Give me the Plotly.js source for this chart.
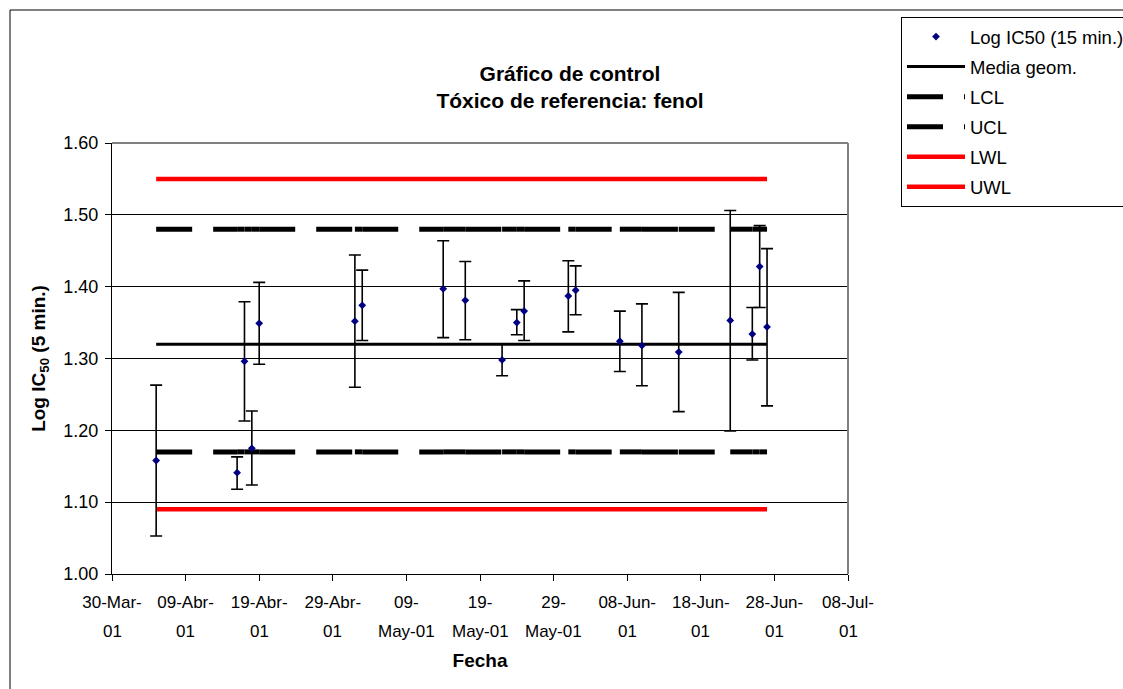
<!DOCTYPE html>
<html>
<head>
<meta charset="utf-8">
<script src="https://cdn.plot.ly/plotly-3.0.1.min.js"></script>
<style>
  html, body { margin: 0; padding: 0; background: #fff; }
  #chart { width: 1123px; height: 689px; }
</style>
</head>
<body>
<div id="chart"></div>
<script>
// ---- Data ----
const dates = [
  '2001-04-05', '2001-04-16', '2001-04-17', '2001-04-18', '2001-04-19',
  '2001-05-02', '2001-05-03', '2001-05-14', '2001-05-17', '2001-05-22',
  '2001-05-24', '2001-05-25', '2001-05-31', '2001-06-01', '2001-06-07',
  '2001-06-10', '2001-06-15', '2001-06-22', '2001-06-25', '2001-06-26',
  '2001-06-27'
];
const logIC50 = [
  1.158, 1.141, 1.296, 1.175, 1.349,
  1.352, 1.374, 1.397, 1.381, 1.298,
  1.350, 1.366, 1.387, 1.395, 1.324,
  1.318, 1.309, 1.353, 1.334, 1.428,
  1.344
];
const upperLimit = [
  1.263, 1.163, 1.379, 1.227, 1.406,
  1.444, 1.423, 1.464, 1.435, 1.320,
  1.368, 1.408, 1.436, 1.429, 1.366,
  1.376, 1.392, 1.506, 1.371, 1.485,
  1.453
];
const lowerLimit = [
  1.053, 1.118, 1.213, 1.124, 1.292,
  1.260, 1.325, 1.329, 1.326, 1.276,
  1.333, 1.325, 1.337, 1.361, 1.282,
  1.262, 1.226, 1.199, 1.298, 1.371,
  1.234
];
const mediaGeom = 1.32;
const LCL = 1.17;
const UCL = 1.48;
const LWL = 1.09;
const UWL = 1.55;

const tickDates = [
  '2001-03-30', '2001-04-09', '2001-04-19', '2001-04-29', '2001-05-09',
  '2001-05-19', '2001-05-29', '2001-06-08', '2001-06-18', '2001-06-28',
  '2001-07-08'
];
const tickLine1 = [
  '30-Mar-', '09-Abr-', '19-Abr-', '29-Abr-', '09-',
  '19-', '29-', '08-Jun-', '18-Jun-', '28-Jun-',
  '08-Jul-'
];
const tickLine2 = [
  '01', '01', '01', '01', 'May-01',
  'May-01', 'May-01', '01', '01', '01',
  '01'
];

// ---- Helpers ----
const FONT = 'Liberation Sans, Arial, sans-serif';
function flat(level) { return dates.map(() => level); }
// Excel restarts the dash pattern at every data point: one sub-path per segment
function segmented(level) {
  const xs = [], ys = [];
  for (let i = 0; i < dates.length - 1; i++) {
    xs.push(dates[i], dates[i + 1], null);
    ys.push(level, level, null);
  }
  return { x: xs, y: ys };
}
const plusErr = logIC50.map((v, i) => upperLimit[i] - v);
const minusErr = logIC50.map((v, i) => v - lowerLimit[i]);

const lcl = segmented(LCL);
const ucl = segmented(UCL);

const traces = [
  { name: 'Media geom.', x: dates, y: flat(mediaGeom), mode: 'lines',
    line: { color: '#000000', width: 3 }, legendrank: 2, legendgroup: 'g2' },
  { name: 'LCL', x: lcl.x, y: lcl.y, mode: 'lines', connectgaps: false,
    line: { color: '#000000', width: 5, dash: '36px,21px' }, legendrank: 3, legendgroup: 'g3' },
  { name: 'UCL', x: ucl.x, y: ucl.y, mode: 'lines', connectgaps: false,
    line: { color: '#000000', width: 5, dash: '36px,21px' }, legendrank: 4, legendgroup: 'g4' },
  { name: 'LWL', x: dates, y: flat(LWL), mode: 'lines',
    line: { color: '#FF0000', width: 4.5 }, legendrank: 5, legendgroup: 'g5' },
  { name: 'UWL', x: dates, y: flat(UWL), mode: 'lines',
    line: { color: '#FF0000', width: 4.5 }, legendrank: 6, legendgroup: 'g6' },
  { name: 'Log IC50 (15 min.)', x: dates, y: logIC50, mode: 'markers',
    marker: { symbol: 'diamond', size: 6, color: '#000080' },
    error_y: { type: 'data', symmetric: false, array: plusErr, arrayminus: minusErr,
               color: '#000000', thickness: 1.6, width: 6 },
    legendrank: 1, legendgroup: 'g1' }
];

// pixel -> paper helpers (plot area 112..848 x, 143..574 y)
const W = 1123, H = 689;
const L = 112, R = 848, T = 143, B = 574;
const px = v => (v - L) / (R - L);
const py = v => (B - v) / (B - T);

const secondLine = tickDates.map((d, i) => ({
  xref: 'x', yref: 'paper', x: d, y: py(631), yanchor: 'middle', xanchor: 'center',
  text: tickLine2[i], showarrow: false,
  font: { family: FONT, size: 17, color: '#000000' }
}));

const layout = {
  width: W, height: H,
  margin: { l: L, r: W - R, t: T, b: H - B, autoexpand: false },
  paper_bgcolor: '#ffffff', plot_bgcolor: '#ffffff',
  font: { family: FONT, size: 18, color: '#000000' },
  title: {
    text: '<b>Gráfico de control<br>Tóxico de referencia: fenol</b>',
    font: { family: FONT, size: 21, color: '#000000' },
    xref: 'container', x: 570 / W, xanchor: 'center',
    yref: 'container', y: 1 - 81 / H, yanchor: 'middle'
  },
  showlegend: true,
  legend: {
    xref: 'container', yref: 'container',
    x: 901 / W, xanchor: 'left', y: 1 - 17 / H, yanchor: 'top',
    bgcolor: '#ffffff', bordercolor: '#000000', borderwidth: 1,
    font: { family: FONT, size: 18.5, color: '#000000' },
    traceorder: 'grouped', tracegroupgap: 3, itemwidth: 58
  },
  xaxis: {
    type: 'date', range: ['2001-03-30', '2001-07-08'],
    tickmode: 'array', tickvals: tickDates, ticktext: tickLine1,
    ticks: 'outside', ticklen: 6, tickcolor: '#000000', tickwidth: 1,
    ticklabelstandoff: 7,
    showline: true, linecolor: '#000000', linewidth: 1,
    showgrid: false, zeroline: false,
    tickfont: { family: FONT, size: 17, color: '#000000' },
    title: { text: '<b>Fecha</b>', font: { family: FONT, size: 19, color: '#000000' }, standoff: 42 }
  },
  yaxis: {
    range: [1.0, 1.6], dtick: 0.1, tick0: 1.0, tickformat: '.2f',
    ticks: 'outside', ticklen: 6, tickcolor: '#000000', tickwidth: 1,
    ticklabelstandoff: 3,
    showline: true, linecolor: '#000000', linewidth: 1,
    showgrid: true, gridcolor: '#000000', gridwidth: 1, zeroline: false,
    tickfont: { family: FONT, size: 18, color: '#000000' },
    title: { text: '<b>Log IC<sub>50</sub> (5 min.)</b>', font: { family: FONT, size: 19, color: '#000000' }, standoff: 12 }
  },
  annotations: secondLine,
  shapes: [
    // plot-area border (top and right, grey)
    { type: 'line', xref: 'paper', yref: 'paper', x0: 0, x1: 1, y0: 1, y1: 1,
      line: { color: '#808080', width: 2 }, layer: 'above' },
    { type: 'line', xref: 'paper', yref: 'paper', x0: 1, x1: 1, y0: 0, y1: 1,
      line: { color: '#808080', width: 2 }, layer: 'above' },
    // chart-area border
    { type: 'rect', xref: 'paper', yref: 'paper',
      x0: px(10), x1: px(1135), y0: py(700), y1: py(10),
      line: { color: '#000000', width: 1 }, fillcolor: 'rgba(0,0,0,0)', layer: 'below' }
  ]
};

Plotly.newPlot('chart', traces, layout, { staticPlot: true, displayModeBar: false });
</script>
</body>
</html>
